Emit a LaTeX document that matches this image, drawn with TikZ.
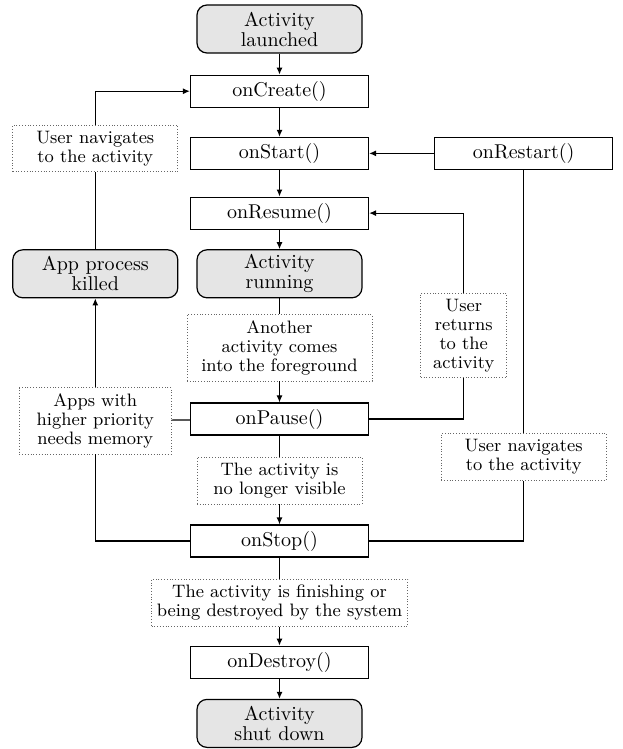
\documentclass[tikz,border=0pt]{standalone}
\usepackage{tikz}
\usetikzlibrary{positioning,arrows.meta}
\pgfmathsetmacro{\flowgap}{10.5}
\pgfmathsetmacro{\sidegap}{9}

\begin{document}
\begin{tikzpicture}[
    >={Latex[length=3.5pt,width=3pt]},
    every path/.style={semithick},
    method/.style={draw, rectangle, minimum width=89pt, minimum height=16pt,
        inner sep=0pt, font=\fontsize{10}{10}\selectfont},
    state/.style={draw, rectangle, rounded corners=5pt, fill=gray!20,
        minimum width=82.5pt, minimum height=24pt, inner sep=0pt, align=center,
        font=\fontsize{10}{10}\selectfont},
    note/.style={draw=black!60, densely dotted, thin, fill=white, rectangle,
        inner xsep=2pt, inner ysep=3pt, align=center,
        font=\fontsize{9}{9.4}\selectfont},
]
    \useasboundingbox (0,0) rectangle (311pt,-374.5pt);
    % main column
    \node[state] (launch) at (139.75pt, -14.5pt) {Activity\\launched};
    \node[method, below=\flowgap pt of launch] (create) {onCreate()};
    \node[method, below=14.5pt of create] (start) {onStart()};
    \node[method, below=13.25pt of start] (resume) {onResume()};
    \node[state, below=9.75pt of resume] (running) {Activity\\running};
    \node[note, minimum width=92.5pt, below=8pt of running] (another)
        {Another\\activity comes\\into the foreground};
    \node[method, below=\flowgap pt of another] (pause) {onPause()};
    \node[note, minimum width=82.5pt, below=\flowgap pt of pause] (invisible)
        {The activity is\\no longer visible};
    \node[method, below=10pt of invisible] (stop) {onStop()};
    \node[note, minimum width=128pt, below=\flowgap pt of stop] (finishing)
        {The activity is finishing or\\being destroyed by the system};
    \node[method, below=9.5pt of finishing] (destroy) {onDestroy()};
    \node[state, below=10pt of destroy] (shutdown) {Activity\\shut down};
    % left column
    \node[state, left=\sidegap pt of running] (killed) {App process\\killed};
    \node[note, minimum width=82.5pt, above=38.5pt of killed] (nav_left)
        {User navigates\\to the activity};
    \node[note, minimum width=76pt, below=44.5pt of killed] (memory)
        {Apps with\\higher priority\\needs memory};
    % right column
    \node[method, right=32.5pt of start] (restart) {onRestart()};
    \node[note, minimum width=43pt, below=61.5pt of restart, xshift=-30pt] (returns)
        {User\\returns\\to the\\activity};
    \node[note, minimum width=82.5pt, below=131.5pt of restart] (nav_right)
        {User navigates\\to the activity};
    % main flow
    \draw[->] (launch) -- (create);
    \draw[->] (create) -- (start);
    \draw[->] (start) -- (resume);
    \draw[->] (resume) -- (running);
    \draw (running) -- (another);
    \draw[->] (another) -- (pause);
    \draw (pause) -- (invisible);
    \draw[->] (invisible) -- (stop);
    \draw (stop) -- (finishing);
    \draw[->] (finishing) -- (destroy);
    \draw[->] (destroy) -- (shutdown);
    % loops on the left
    \draw (killed) -- (nav_left);
    \draw[->] (nav_left) |- (create);
    \draw (pause) -- (memory);
    \draw (stop) -| (memory);
    \draw[->] (memory) -- (killed);
    % loops on the right
    \draw (pause) -| (returns);
    \draw[->] (returns) |- (resume);
    \draw (stop) -| (nav_right);
    \draw (nav_right) -- (restart);
    \draw[->] (restart) -- (start);
\end{tikzpicture}
\end{document}
